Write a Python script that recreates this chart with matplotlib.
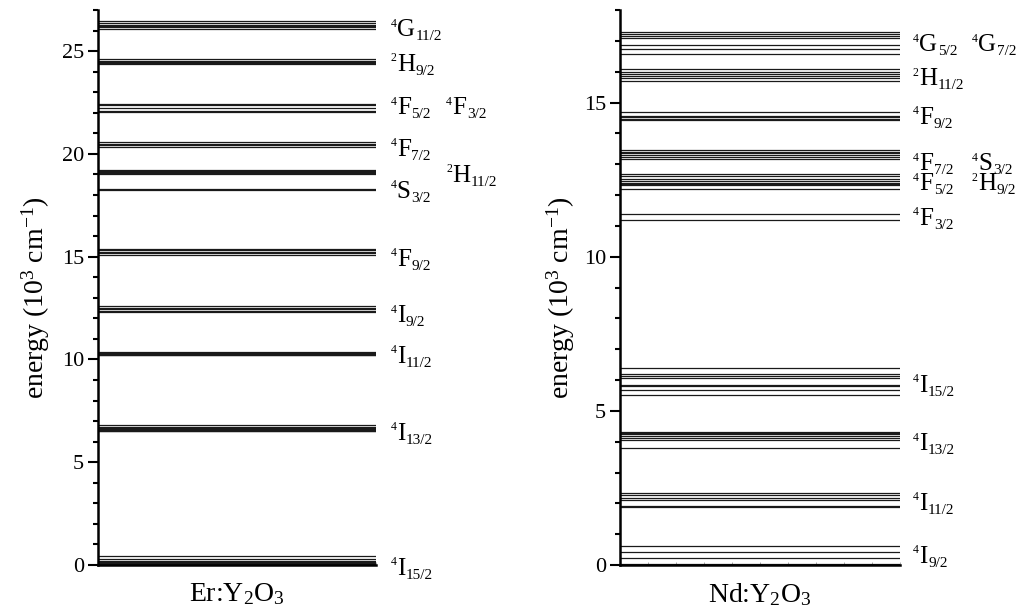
import numpy as np
import matplotlib
matplotlib.use("Agg")
import matplotlib.pyplot as plt
from matplotlib.ticker import MultipleLocator, NullLocator
from matplotlib.transforms import offset_copy, blended_transform_factory

plt.rcParams["font.family"] = ["Liberation Serif", "DejaVu Serif"]
plt.rcParams["mathtext.fontset"] = "custom"
plt.rcParams["mathtext.rm"] = "Liberation Serif"
plt.rcParams["mathtext.it"] = "Liberation Serif:italic"
plt.rcParams["mathtext.bf"] = "Liberation Serif:bold"

# Stark levels, 10^3 cm^-1
er_levels = {
    "4I15/2": [0.0, 0.04, 0.08, 0.09, 0.16, 0.21, 0.27, 0.46],
    "4I13/2": [6.50, 6.53, 6.59, 6.61, 6.68, 6.72, 6.82],
    "4I11/2": [10.20, 10.23, 10.26, 10.29, 10.33, 10.36],
    "4I9/2": [12.29, 12.38, 12.45, 12.52, 12.58],
    "4F9/2": [15.10, 15.16, 15.24, 15.31, 15.39],
    "4S3/2": [18.22, 18.30],
    "2H11/2": [19.02, 19.06, 19.10, 19.14, 19.18, 19.22],
    "4F7/2": [20.33, 20.41, 20.48, 20.59],
    "4F5/2": [22.03, 22.10, 22.22],
    "4F3/2": [22.38, 22.45],
    "2H9/2": [24.36, 24.42, 24.47, 24.53, 24.60],
    "4G11/2": [26.09, 26.15, 26.20, 26.28, 26.38, 26.45],
}

nd_levels = {
    "4I9/2": [0.0, 0.03, 0.24, 0.41, 0.625],
    "4I11/2": [1.89, 1.92, 2.11, 2.18, 2.27, 2.32],
    "4I13/2": [3.80, 4.05, 4.12, 4.19, 4.24, 4.27, 4.30],
    "4I15/2": [5.51, 5.69, 5.80, 5.85, 6.05, 6.13, 6.18, 6.40],
    "4F3/2": [11.20, 11.39],
    "4F5/2+2H9/2": [12.18, 12.31, 12.36, 12.40, 12.45, 12.53, 12.61, 12.69],
    "4F7/2+4S3/2": [13.17, 13.24, 13.30, 13.36, 13.41, 13.47],
    "4F9/2": [14.42, 14.48, 14.52, 14.55, 14.68],
    "2H11/2": [15.69, 15.79, 15.85, 15.93, 15.98, 16.09],
    "4G5/2+4G7/2": [16.58, 16.72, 16.88, 17.09, 17.15, 17.22, 17.28],
}

# term symbols (multiplicity, letter, J) per column, with a vertical nudge in px
er_terms = [
    ("4G11/2", ("4", "G", "11/2"), None, 3),
    ("2H9/2", ("2", "H", "9/2"), None, 1),
    ("4F5/2", ("4", "F", "5/2"), ("4", "F", "3/2"), -4),
    ("4F7/2", ("4", "F", "7/2"), None, 3),
    ("2H11/2", None, ("2", "H", "11/2"), 2),
    ("4S3/2", ("4", "S", "3/2"), None, 0),
    ("4F9/2", ("4", "F", "9/2"), None, 6),
    ("4I9/2", ("4", "I", "9/2"), None, 5),
    ("4I11/2", ("4", "I", "11/2"), None, 1),
    ("4I13/2", ("4", "I", "13/2"), None, 3),
    ("4I15/2", ("4", "I", "15/2"), None, 5),
]

nd_terms = [
    ("4G5/2+4G7/2", ("4", "G", "5/2"), ("4", "G", "7/2"), 2),
    ("2H11/2", ("2", "H", "11/2"), None, 2),
    ("4F9/2", ("4", "F", "9/2"), None, -1),
    ("4F7/2+4S3/2", ("4", "F", "7/2"), ("4", "S", "3/2"), 8),
    ("4F5/2+2H9/2", ("4", "F", "5/2"), ("2", "H", "9/2"), 1),
    ("4F3/2", ("4", "F", "3/2"), None, 0),
    ("4I15/2", ("4", "I", "15/2"), None, 2),
    ("4I13/2", ("4", "I", "13/2"), None, 5),
    ("4I11/2", ("4", "I", "11/2"), None, 2),
    ("4I9/2", ("4", "I", "9/2"), None, -2),
]

MAIN_FS = 18
SUP_FS = 8.5
SUB_FS = 11
HALF_CAP = 8      # px, half the capital height of the term letter
SUP_RISE = 9.5    # px above the letter baseline
SUB_DROP = 4      # px below the letter baseline

fig = plt.figure(figsize=(10.21, 6.14), dpi=100)
renderer = fig.canvas.get_renderer()
ax_er = fig.add_axes([98 / 1021, 49 / 614, 278 / 1021, 555 / 614])
ax_nd = fig.add_axes([620 / 1021, 49 / 614, 280 / 1021, 555 / 614])


def term_label(ax, xfrac, yval, parts, nudge):
    mult, letter, jval = parts
    base = blended_transform_factory(ax.transAxes, ax.transData)
    y0 = -(nudge + HALF_CAP)
    dx = 0.0
    for txt, fs, dy in ((mult, SUP_FS, SUP_RISE), (letter, MAIN_FS, 0),
                        (jval, SUB_FS, -SUB_DROP)):
        t = ax.text(xfrac, yval, txt, fontsize=fs, va="baseline", ha="left",
                    clip_on=False,
                    transform=offset_copy(base, fig=fig, x=dx, y=y0 + dy,
                                          units="dots"))
        dx += t.get_window_extent(renderer).width + 0.5


def draw_panel(ax, levels, terms, ymax, host, col1, col2, ylab_x):
    for grp, vals in levels.items():
        ax.hlines(vals, 0, 1, colors="#1a1a1a", linewidth=0.9)
    ax.set_xlim(0, 1)
    ax.set_ylim(0, ymax)
    ax.yaxis.set_major_locator(MultipleLocator(5))
    ax.yaxis.set_minor_locator(MultipleLocator(1))
    ax.xaxis.set_major_locator(NullLocator())
    ax.xaxis.set_minor_locator(MultipleLocator(0.1))
    ax.tick_params(axis="y", which="major", direction="out", length=7,
                   width=1.5, labelsize=16, pad=3)
    ax.tick_params(axis="y", which="minor", direction="out", length=3.5,
                   width=1.5)
    ax.tick_params(axis="x", which="minor", direction="in", length=2,
                   width=0.6, color="#999999")
    for side in ("top", "right"):
        ax.spines[side].set_visible(False)
    for side in ("left", "bottom"):
        ax.spines[side].set_linewidth(1.8)
    ax.set_ylabel(r"energy (10$^{3}$ cm$^{-1}$)", fontsize=20)
    ax.yaxis.set_label_coords(ylab_x, 0.482)
    ax.set_xlabel(host, fontsize=20, labelpad=8)

    for grp, t1, t2, nudge in terms:
        yc = float(np.mean(levels[grp]))
        if t1 is not None:
            term_label(ax, col1, yc, t1, nudge)
        if t2 is not None:
            term_label(ax, col2, yc, t2, nudge)


draw_panel(ax_er, er_levels, er_terms, 27, r"Er:Y$_{2}$O$_{3}$",
           1.052, 1.252, -0.165)
draw_panel(ax_nd, nd_levels, nd_terms, 18, r"Nd:Y$_{2}$O$_{3}$",
           1.046, 1.257, -0.152)

fig.savefig("out.png", dpi=100)
